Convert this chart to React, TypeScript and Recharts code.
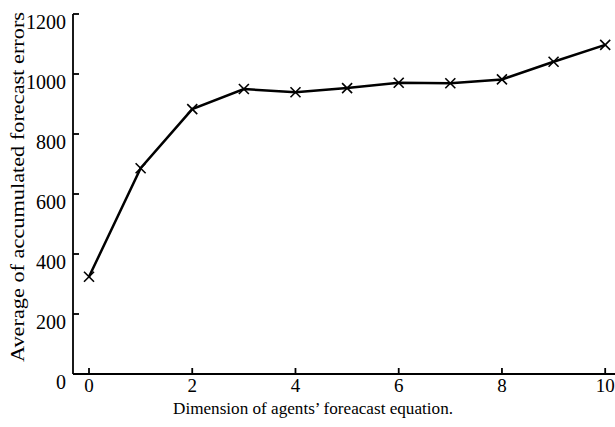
import { LineChart, Line, XAxis, YAxis } from "recharts";

// dimension of the forecast equation vs. average accumulated forecast error
const dimensions = [0, 1, 2, 3, 4, 5, 6, 7, 8, 9, 10];
const avgErrors = [324, 686, 883, 950, 939, 953, 971, 969, 982, 1041, 1097];
const xTicks = [0, 2, 4, 6, 8, 10];
const yTicks = [0, 200, 400, 600, 800, 1000, 1200];

const data = dimensions.map((d, i) => ({ dim: d, err: avgErrors[i] }));

const FONT = "'Liberation Serif', 'DejaVu Serif', serif";
const X_DOMAIN = [-0.31, 10.19];
const PLOT_LEFT = 73;
const PLOT_TOP = 14;
const PLOT_BOTTOM = 374;
const TICK = 6;

function Cross(props: any) {
  const { cx, cy } = props;
  if (cx == null || cy == null) return null;
  const r = 5;
  return (
    <g stroke="#000" strokeWidth={1.6}>
      <line x1={cx - r} y1={cy - r} x2={cx + r} y2={cy + r} />
      <line x1={cx - r} y1={cy + r} x2={cx + r} y2={cy - r} />
    </g>
  );
}

// tick labels plus MATLAB-style inward tick marks
function YTick(props: any) {
  const { x, y, payload } = props;
  return (
    <g>
      <path d={`M${PLOT_LEFT},${y}h${TICK}`} stroke="#000" strokeWidth={1.8} fill="none" />
      <text x={x} y={y + 8} textAnchor="end" dominantBaseline="central" fontFamily={FONT} fontSize={20} fill="#000">
        {payload.value}
      </text>
    </g>
  );
}

function XTick(props: any) {
  const { x, y, payload } = props;
  return (
    <g>
      <path d={`M${x},${PLOT_BOTTOM}v${-TICK}`} stroke="#000" strokeWidth={1.8} fill="none" />
      <text x={x} y={y - 3} textAnchor="middle" dominantBaseline="hanging" fontFamily={FONT} fontSize={19} fill="#000">
        {payload.value}
      </text>
    </g>
  );
}

function TopTick(props: any) {
  const { x } = props;
  return <path d={`M${x},${PLOT_TOP}v${TICK}`} stroke="#000" strokeWidth={1.8} fill="none" />;
}

function XTitle() {
  return (
    <text
      x={313}
      y={414}
      textAnchor="middle"
      fontFamily={FONT}
      fontSize={17.5}
      textLength={280}
      lengthAdjust="spacingAndGlyphs"
      fill="#000"
    >
      Dimension of agents’ foreacast equation.
    </text>
  );
}

function YTitle() {
  const cy = 187;
  const cx = 24;
  return (
    <text
      x={cx}
      y={cy}
      transform={`rotate(-90 ${cx} ${cy})`}
      textAnchor="middle"
      fontFamily={FONT}
      fontSize={18}
      textLength={350}
      lengthAdjust="spacingAndGlyphs"
      fill="#000"
    >
      Average of accumulated forecast errors
    </text>
  );
}

export default function App() {
  return (
    <div style={{ width: 615, height: 427, background: "#fff" }}>
      <style>{"body{margin:0;overflow:hidden}"}</style>
      <LineChart width={615} height={427} data={data} margin={{ top: PLOT_TOP, right: 0, bottom: 0, left: 0 }}>
        <XAxis
          xAxisId="top"
          orientation="top"
          dataKey="dim"
          type="number"
          domain={X_DOMAIN}
          allowDataOverflow
          ticks={xTicks}
          tick={<TopTick />}
          tickLine={false}
          height={0}
          stroke="#000"
          strokeWidth={1.8}
        />
        <XAxis
          dataKey="dim"
          type="number"
          domain={X_DOMAIN}
          allowDataOverflow
          ticks={xTicks}
          tick={<XTick />}
          tickLine={false}
          tickSize={0}
          tickMargin={7}
          height={53}
          stroke="#000"
          strokeWidth={1.8}
          label={<XTitle />}
        />
        <YAxis
          domain={[0, 1200]}
          ticks={yTicks}
          tick={<YTick />}
          tickLine={false}
          tickSize={0}
          tickMargin={7}
          width={PLOT_LEFT}
          stroke="#000"
          strokeWidth={1.8}
          label={<YTitle />}
        />
        <Line
          type="linear"
          dataKey="err"
          stroke="#000"
          strokeWidth={2.5}
          dot={<Cross />}
          activeDot={false}
          isAnimationActive={false}
        />
      </LineChart>
    </div>
  );
}
